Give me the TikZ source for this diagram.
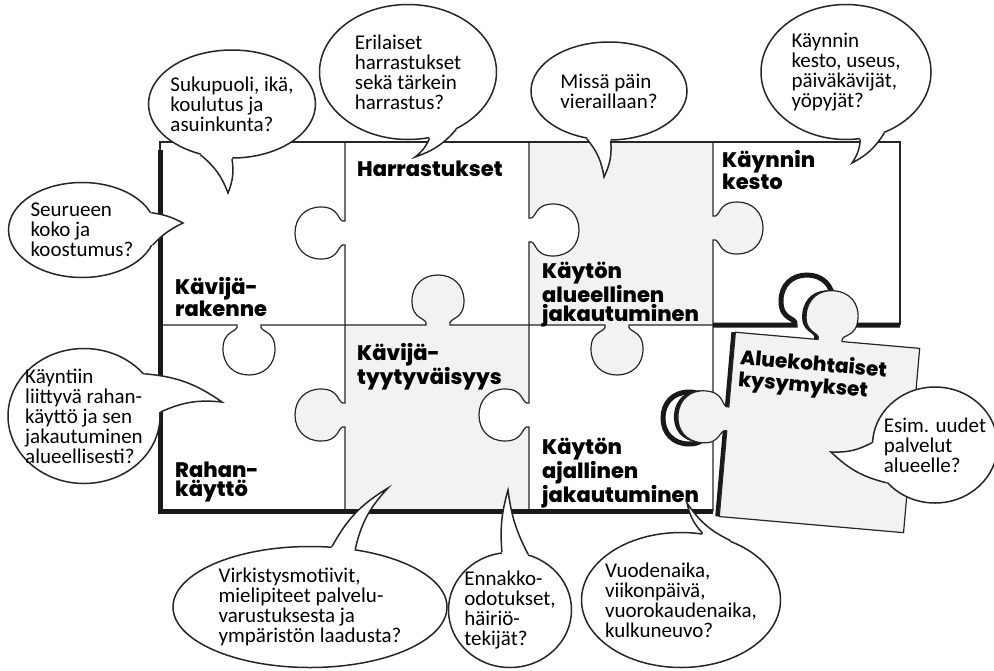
\documentclass[tikz,border=0pt]{standalone}
\usepackage{fontspec}
\setmainfont{Carlito}
\newfontfamily\labelfont{Poppins}[BoldFont={Poppins ExtraBold}]
\usetikzlibrary{shapes.geometric,calc}

% knob on a cut line: x, y, side (1 or -1)
\newcommand{\vknob}[3]{-- (#1,{#2-12})
  .. controls ({#1+(#3)*8},{#2-10}) and ({#1+(#3)*4},{#2-26}) .. ({#1+(#3)*24},{#2-26})
  .. controls ({#1+(#3)*40},{#2-26}) and ({#1+(#3)*50},{#2-15}) .. ({#1+(#3)*50},#2)
  .. controls ({#1+(#3)*50},{#2+15}) and ({#1+(#3)*40},{#2+26}) .. ({#1+(#3)*24},{#2+26})
  .. controls ({#1+(#3)*4},{#2+26}) and ({#1+(#3)*8},{#2+10}) .. (#1,{#2+12})}
\newcommand{\vknobup}[3]{-- (#1,{#2+12})
  .. controls ({#1+(#3)*8},{#2+10}) and ({#1+(#3)*4},{#2+26}) .. ({#1+(#3)*24},{#2+26})
  .. controls ({#1+(#3)*40},{#2+26}) and ({#1+(#3)*50},{#2+15}) .. ({#1+(#3)*50},#2)
  .. controls ({#1+(#3)*50},{#2-15}) and ({#1+(#3)*40},{#2-26}) .. ({#1+(#3)*24},{#2-26})
  .. controls ({#1+(#3)*4},{#2-26}) and ({#1+(#3)*8},{#2-10}) .. (#1,{#2-12})}
\newcommand{\hknob}[3]{-- ({#1-12},#2)
  .. controls ({#1-10},{#2+(#3)*8}) and ({#1-26},{#2+(#3)*4}) .. ({#1-26},{#2+(#3)*24})
  .. controls ({#1-26},{#2+(#3)*40}) and ({#1-15},{#2+(#3)*50}) .. (#1,{#2+(#3)*50})
  .. controls ({#1+15},{#2+(#3)*50}) and ({#1+26},{#2+(#3)*40}) .. ({#1+26},{#2+(#3)*24})
  .. controls ({#1+26},{#2+(#3)*4}) and ({#1+10},{#2+(#3)*8}) .. ({#1+12},#2)}

% tail of a bubble: node, angle, angle, tip, bend
\newcommand{\tail}[5]{%
  \fill[white] (#1.#2) to[bend left=#5] (#4) to[bend right=#5] (#1.#3)
    -- ($(#1.#3)!0.12!(#1.center)$) -- ($(#1.#2)!0.12!(#1.center)$) -- cycle;
  \draw[tailline] (#1.#2) to[bend left=#5] (#4) to[bend right=#5] (#1.#3);}

\tikzset{
  cutline/.style={line width=1.2pt, draw=black!85},
  shadowline/.style={line width=5pt, draw=black!90},
  greypiece/.style={fill=black!5},
  piecetext/.style={anchor=north west, inner sep=0pt, align=left,
    font=\labelfont\bfseries\fontsize{21}{19}\selectfont},
  bubble/.style={ellipse, draw=black!85, line width=1.5pt, fill=white, inner sep=0pt},
  bubbletext/.style={align=left, inner sep=0pt, font=\fontsize{21}{20}\selectfont},
  tailline/.style={draw=black!85, line width=1.5pt}
}

\begin{document}
\begin{tikzpicture}[x=1pt,y=-1pt]
\useasboundingbox (0,0) rectangle (994,670);
\fill[white] (0,0) rectangle (994,670);

% grey pieces
\fill[greypiece] (345,325) rectangle (529,511);
\fill[greypiece] (426,325) \hknob{438}{325}{-1} -- cycle;
\fill[greypiece] (345,403) \vknob{345}{415}{-1} -- cycle;
\fill[white] (529,403) \vknob{529}{415}{-1} -- cycle;
\fill[greypiece] (529,142) rectangle (713,325);
\fill[greypiece] (605,325) \hknob{617}{325}{1} -- cycle;
\fill[greypiece] (713,216) \vknob{713}{228}{1} -- cycle;
\fill[white] (529,218) \vknob{529}{230}{1} -- cycle;

% cut lines
\draw[cutline] (160,150) -- (160,142) -- (900,142) -- (900,325);
\draw[cutline] (345,142) \vknob{345}{233}{-1} \vknob{345}{415}{-1} -- (345,511);
\draw[cutline] (529,142) \vknob{529}{230}{1} \vknob{529}{415}{-1} -- (529,511);
\draw[cutline] (713,142) \vknob{713}{228}{1} -- (713,511);
\draw[cutline] (160,325) \hknob{249}{325}{1} \hknob{438}{325}{-1} \hknob{617}{325}{1} -- (713,325);

% shadows
\draw[shadowline] (160,150) -- (160,511) -- (713,511);
\draw[shadowline] (713,325) \hknob{807}{325}{-1} -- (900,325);
\draw[shadowline] (713,400) \vknob{713}{418}{-1};

% lifted piece
\begin{scope}[rotate around={-5:(820,432)}]
\fill[black!90, xshift=-4pt] (727,340) \hknob{822}{340}{-1} -- (912,340) -- (912,525) -- (727,525) \vknobup{727}{427}{-1} -- cycle;
\draw[cutline, greypiece] (727,340) \hknob{822}{340}{-1} -- (912,340) -- (912,525) -- (727,525) \vknobup{727}{427}{-1} -- cycle;
\end{scope}

\node[piecetext] (kavijarakenne) at (175,277) {Kävijä-\\rakenne};
\node[piecetext] (harrastukset) at (357,161) {Harrastukset};
\node[piecetext] (alueellinen) at (542,262) {Käytön\\alueellinen\\jakautuminen};
\node[piecetext] (kesto) at (722,150) {Käynnin\\kesto};
\node[piecetext] (tyytyvaisyys) at (357,343) {Kävijä-\\tyytyväisyys};
\node[piecetext] (rahankaytto) at (175,462) {Rahan-\\käyttö};
\node[piecetext] (ajallinen) at (542,438) {Käytön\\ajallinen\\jakautuminen};
\node[piecetext, rotate=-5, font=\labelfont\bfseries\fontsize{20}{22}\selectfont] (aluekohtaiset) at (741,348) {Aluekohtaiset\\kysymykset};

% speech bubbles
\coordinate (p-seurue) at (183,223);
\coordinate (p-sukupuoli) at (228,193);
\coordinate (p-harrastus) at (415,157);
\coordinate (p-vierailu) at (604,177);
\coordinate (p-kesto) at (852,163);
\coordinate (p-raha) at (222,402);
\coordinate (p-motiivi) at (388,488);
\coordinate (p-odotus) at (508,490);
\coordinate (p-aika) at (687,503);
\coordinate (p-esim) at (831,452);

\node[bubble, minimum width=147pt, minimum height=95pt] (seurue) at (82,230) {};
\tail{seurue}{14}{-12}{p-seurue}{10}
\node[bubbletext] (seurue-t) at (seurue) {Seurueen\\koko ja\\koostumus?};

\node[bubble, minimum width=167pt, minimum height=108pt] (sukupuoli) at (232,104) {};
\tail{sukupuoli}{-122}{-90}{p-sukupuoli}{15}
\node[bubbletext] (sukupuoli-t) at (sukupuoli) {Sukupuoli, ikä,\\koulutus ja\\asuinkunta?};

\node[bubble, minimum width=177pt, minimum height=135pt] (harrastus) at (408,72) {};
\tail{harrastus}{-72}{-50}{p-harrastus}{15}
\node[bubbletext] (harrastus-t) at (harrastus) {Erilaiset\\harrastukset\\sekä tärkein\\harrastus?};

\node[bubble, minimum width=156pt, minimum height=98pt] (vierailu) at (609,91) {};
\tail{vierailu}{-115}{-88}{p-vierailu}{15}
\node[bubbletext] (vierailu-t) at (vierailu) {Missä päin\\vieraillaan?};

\node[bubble, minimum width=170pt, minimum height=135pt] (kestokysymys) at (846,72) {};
\tail{kestokysymys}{-78}{-58}{p-kesto}{15}
\node[bubbletext] (kestokysymys-t) at (kestokysymys) {Käynnin\\kesto, useus,\\päiväkävijät,\\yöpyjät?};

\node[bubble, minimum width=152pt, minimum height=135pt] (raha) at (84,416) {};
\tail{raha}{35}{3}{p-raha}{15}
\node[bubbletext] (raha-t) at (raha) {Käyntiin\\liittyvä rahan-\\käyttö ja sen\\jakautuminen\\alueellisesti?};

\node[bubble, minimum width=274pt, minimum height=121pt] (motiivi) at (310,607) {};
\tail{motiivi}{70}{52}{p-motiivi}{15}
\node[bubbletext] (motiivi-t) at (motiivi) {Virkistysmotiivit,\\mielipiteet palvelu-\\varustuksesta ja\\ympäristön laadusta?};

\node[bubble, minimum width=123pt, minimum height=115pt] (odotus) at (510,610) {};
\tail{odotus}{98}{72}{p-odotus}{10}
\node[bubbletext] (odotus-t) at (odotus) {Ennakko-\\odotukset,\\häiriö-\\tekijät?};

\node[bubble, minimum width=199pt, minimum height=135pt] (aika) at (681,600) {};
\tail{aika}{72}{50}{p-aika}{15}
\node[bubbletext] (aika-t) at (aika) {Vuodenaika,\\viikonpäivä,\\vuorokaudenaika,\\kulkuneuvo?};

\node[bubble, minimum width=125pt, minimum height=116pt] (esim) at (935,445) {};
\tail{esim}{178}{218}{p-esim}{15}
\node[bubbletext] (esim-t) at (esim) {Esim. uudet\\palvelut\\alueelle?};

\end{tikzpicture}
\end{document}
